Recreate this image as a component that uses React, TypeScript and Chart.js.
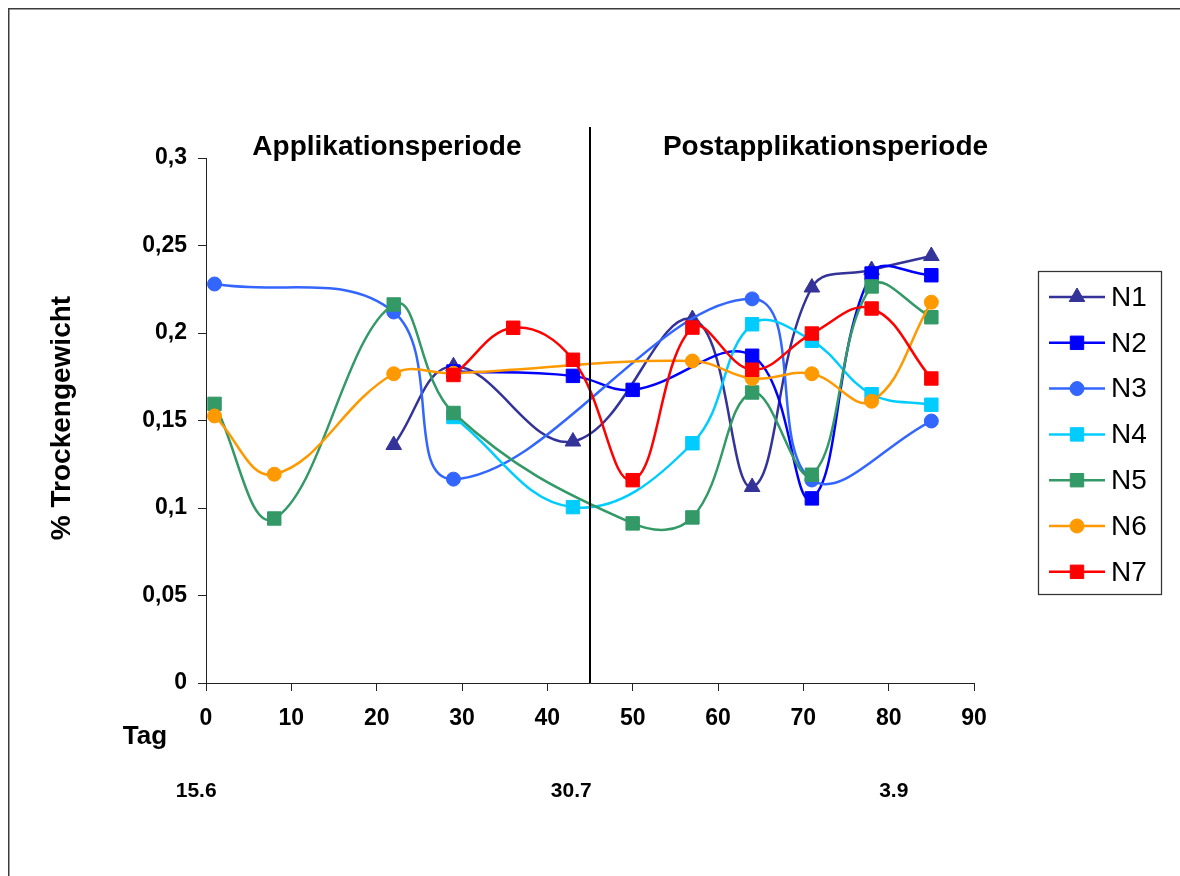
import React, { useEffect, useRef } from 'react';
import { Chart, registerables } from 'chart.js';

Chart.register(...registerables);

// ---- data ----
const days = [1, 8, 22, 29, 36, 43, 50, 57, 64, 71, 78, 85];
const seriesNames = ['N1', 'N2', 'N3', 'N4', 'N5', 'N6', 'N7'];
const n1 = [null, null, 0.136, 0.181, null, 0.138, null, 0.208, 0.112, 0.226, 0.236, 0.244];
const n2 = [null, null, null, 0.178, null, 0.1755, 0.1675, null, 0.187, 0.1055, 0.234, 0.233];
const n3 = [0.228, null, 0.212, 0.1165, null, null, null, null, 0.2195, 0.116, null, 0.1497];
const n4 = [null, null, null, 0.152, null, 0.1005, null, 0.137, 0.205, 0.1956, 0.165, 0.159];
const n5 = [0.1595, 0.094, 0.2163, 0.1543, null, null, 0.0912, 0.0946, 0.166, 0.119, 0.2266, 0.209];
const n6 = [0.1526, 0.1193, 0.1767, 0.177, null, null, null, 0.184, 0.174, 0.1767, 0.161, 0.2176];
const n7 = [null, null, null, 0.176, 0.203, 0.1847, 0.1159, 0.2031, 0.179, 0.1997, 0.214, 0.174];
const seriesValues = [n1, n2, n3, n4, n5, n6, n7];

const periodLabels = ['Applikationsperiode', 'Postapplikationsperiode'];
const dateLabels = ['15.6', '30.7', '3.9'];
const dateDays = [-1.15, 42.8, 80.6];
const periodBoundaryDay = 45;
const yAxisTitle = '% Trockengewicht';
const xAxisTitle = 'Tag';

// ---- styles ----
const colors = ['#333399', '#0000FF', '#3366FF', '#00CCFF', '#339966', '#FF9900', '#FF0000'];
const pointStyles = ['triangle', 'rect', 'circle', 'rect', 'rect', 'circle', 'rect'];
const FONT = "'Liberation Sans', Arial, sans-serif";

function radiusFor(style: string) {
  if (style === 'rect') return 9.5;
  if (style === 'triangle') return 9;
  return 7;
}

function drawMarker(ctx: CanvasRenderingContext2D, style: string, x: number, y: number, r: number, color: string) {
  ctx.save();
  ctx.fillStyle = color;
  ctx.strokeStyle = color;
  ctx.lineWidth = 1;
  ctx.beginPath();
  if (style === 'circle') {
    ctx.arc(x, y, r, 0, Math.PI * 2);
  } else if (style === 'rect') {
    const s = Math.SQRT1_2 * r;
    ctx.rect(x - s, y - s, 2 * s, 2 * s);
  } else if (style === 'triangle') {
    let rad = 0;
    ctx.moveTo(x + Math.sin(rad) * r, y - Math.cos(rad) * r);
    rad += (2 * Math.PI) / 3;
    ctx.lineTo(x + Math.sin(rad) * r, y - Math.cos(rad) * r);
    rad += (2 * Math.PI) / 3;
    ctx.lineTo(x + Math.sin(rad) * r, y - Math.cos(rad) * r);
    ctx.closePath();
  }
  ctx.fill();
  ctx.stroke();
  ctx.restore();
}

const decorPlugin = {
  id: 'decor',
  afterDatasetsDraw(chart: any) {
    const ctx: CanvasRenderingContext2D = chart.ctx;
    const xs = chart.scales.x;
    const area = chart.chartArea;
    // period boundary line
    const bx = xs.getPixelForValue(periodBoundaryDay);
    ctx.save();
    ctx.strokeStyle = '#000';
    ctx.lineWidth = 2;
    ctx.beginPath();
    ctx.moveTo(bx, 127);
    ctx.lineTo(bx, area.bottom);
    ctx.stroke();
    ctx.restore();
  },
  afterDraw(chart: any) {
    const ctx: CanvasRenderingContext2D = chart.ctx;
    const xs = chart.scales.x;
    ctx.save();
    // outer frame
    ctx.strokeStyle = '#3c3c3c';
    ctx.lineWidth = 1.5;
    ctx.strokeRect(8.75, 8.75, 1300, 1000);

    ctx.fillStyle = '#000';
    // period labels
    ctx.font = `bold 28px ${FONT}`;
    ctx.textAlign = 'center';
    ctx.textBaseline = 'alphabetic';
    ctx.fillText(periodLabels[0], xs.getPixelForValue(21.2), 155);
    ctx.fillText(periodLabels[1], xs.getPixelForValue(72.6), 155);

    // y title
    ctx.save();
    ctx.translate(62.5, 418);
    ctx.rotate(-Math.PI / 2);
    ctx.textBaseline = 'middle';
    ctx.font = `bold 28px ${FONT}`;
    ctx.fillText(yAxisTitle, 0, 0);
    ctx.restore();

    // x title
    ctx.font = `bold 26px ${FONT}`;
    ctx.textAlign = 'center';
    ctx.textBaseline = 'alphabetic';
    ctx.fillText(xAxisTitle, 145, 744);

    // dates
    ctx.font = `bold 21px ${FONT}`;
    dateLabels.forEach((t, i) => {
      ctx.fillText(t, xs.getPixelForValue(dateDays[i]), 797);
    });

    // legend
    ctx.strokeStyle = '#333';
    ctx.lineWidth = 1.25;
    ctx.strokeRect(1038.5, 271.5, 123, 323);
    chart.data.datasets.forEach((ds: any, i: number) => {
      const y = 297 + i * 45.8;
      ctx.strokeStyle = ds.borderColor;
      ctx.lineWidth = 2.5;
      ctx.beginPath();
      ctx.moveTo(1049, y);
      ctx.lineTo(1105, y);
      ctx.stroke();
      drawMarker(ctx, ds.pointStyle, 1077, y, ds.pointRadius, ds.borderColor);
      ctx.fillStyle = '#000';
      ctx.font = `28px ${FONT}`;
      ctx.textAlign = 'left';
      ctx.textBaseline = 'middle';
      ctx.fillText(ds.label, 1111, y + 1);
    });
    ctx.restore();
  },
};

export default function App() {
  const ref = useRef<HTMLCanvasElement | null>(null);

  useEffect(() => {
    if (!ref.current) return;
    const datasets = seriesNames.map((name, i) => ({
      label: name,
      data: days
        .map((d, j) => ({ x: d, y: seriesValues[i][j] }))
        .filter((p) => p.y !== null),
      borderColor: colors[i],
      backgroundColor: colors[i],
      pointBackgroundColor: colors[i],
      pointBorderColor: colors[i],
      pointBorderWidth: 1,
      pointStyle: pointStyles[i],
      pointRadius: radiusFor(pointStyles[i]),
      borderWidth: 2.5,
      tension: 0.4,
      fill: false,
      order: seriesNames.length - i,
      clip: false as any,
    }));

    const chart = new Chart(ref.current, {
      type: 'line',
      data: { datasets },
      plugins: [decorPlugin],
      options: {
        animation: false,
        responsive: false,
        devicePixelRatio: 1,
        layout: { padding: { left: 0, top: 158, right: 206, bottom: 0 } },
        plugins: {
          legend: { display: false },
          tooltip: { enabled: false },
          title: { display: false },
        },
        scales: {
          x: {
            type: 'linear',
            min: 0,
            max: 90,
            ticks: {
              stepSize: 10,
              color: '#000',
              padding: 14,
              font: { family: FONT, size: 23, weight: 'bold' },
              maxRotation: 0,
            },
            grid: { drawOnChartArea: false, drawTicks: true, tickLength: 8, color: '#222', lineWidth: 1 },
            border: { display: true, color: '#222', width: 1 },
            afterFit: (s: any) => {
              s.height = 193;
            },
          },
          y: {
            type: 'linear',
            min: 0,
            max: 0.3,
            ticks: {
              stepSize: 0.05,
              color: '#000',
              padding: 11,
              font: { family: FONT, size: 23, weight: 'bold' },
              callback: (v: any) => String(Math.round(Number(v) * 100) / 100).replace('.', ','),
            },
            grid: { drawOnChartArea: false, drawTicks: true, tickLength: 8, color: '#222', lineWidth: 1 },
            border: { display: true, color: '#222', width: 1 },
            afterFit: (s: any) => {
              s.width = 206;
            },
          },
        },
      } as any,
    });
    return () => chart.destroy();
  }, []);

  return (
    <div style={{ position: 'fixed', left: 0, top: 0, width: 1180, height: 876, background: '#fff' }}>
      <canvas ref={ref} width={1180} height={876} style={{ display: 'block', width: 1180, height: 876 }} />
    </div>
  );
}
